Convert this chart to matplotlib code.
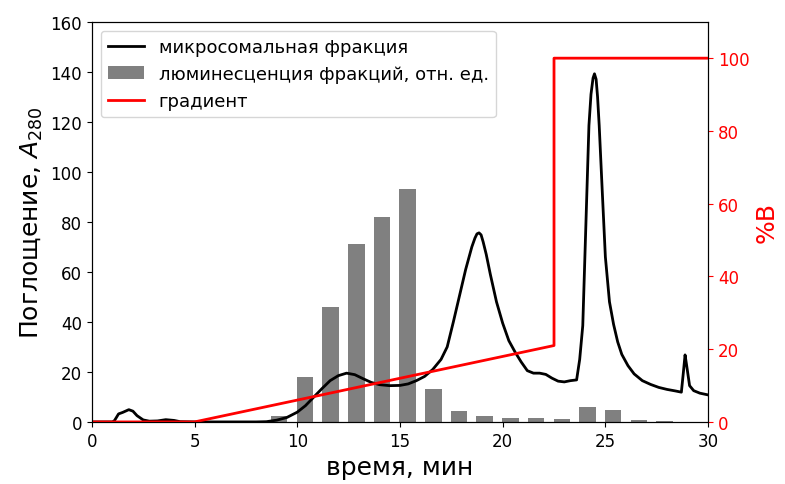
import matplotlib
matplotlib.use("Agg")
import matplotlib.pyplot as plt

# Black chromatogram (microsomal fraction)
time_min = [0, 1.0, 1.1, 1.3, 1.5, 1.8, 2.0, 2.2, 2.5, 2.8, 3.2, 3.6, 4.0, 4.3, 5, 6, 7, 8,
            8.5, 9.0, 9.5, 10.0, 10.4, 10.8, 11.2, 11.6, 12.0, 12.4, 12.8, 13.2, 13.6,
            14.0, 14.5, 15.0, 15.4, 15.8, 16.2, 16.6, 17.0, 17.3, 17.6, 17.9, 18.2, 18.5,
            18.65, 18.75, 18.85, 18.95, 19.05, 19.2, 19.4, 19.7, 20.0, 20.3, 20.6, 20.9,
            21.2, 21.5, 21.8, 22.1, 22.4, 22.7, 23.0, 23.3, 23.6, 23.75, 23.9, 24.05,
            24.2, 24.3, 24.4, 24.47, 24.55, 24.62, 24.7, 24.85, 25.0, 25.2, 25.4, 25.6,
            25.8, 26.1, 26.4, 26.8, 27.2, 27.6, 28.0, 28.4, 28.7, 28.8, 28.88, 28.95,
            29.1, 29.3, 29.6, 30.0]
absorbance = [0, 0, 0.5, 3.2, 3.8, 4.9, 4.3, 2.5, 0.8, 0.3, 0.4, 0.9, 0.6, 0.1, 0, 0, 0, 0,
              0.1, 0.7, 1.8, 3.9, 6.5, 9.9, 13.3, 16.5, 18.5, 19.5, 18.9, 17.3, 15.8,
              14.9, 14.5, 14.6, 15.2, 16.5, 18.2, 21.0, 25.0, 30, 40, 50.5, 61, 70,
              73.5, 75.2, 75.6, 74.8, 72, 67, 59, 48, 39.5, 32.5, 28, 24,
              20.5, 19.5, 19.5, 19.0, 17.5, 16.3, 16.0, 16.5, 16.8, 25, 38.5, 78.5,
              118.5, 131, 137.5, 139.2, 137, 130, 118.5, 92, 66, 48, 39, 32,
              27, 22.5, 19.2, 16.5, 15, 13.8, 13, 12.4, 11.9, 20, 26.8, 23,
              14.5, 12.5, 11.5, 10.8]

# Fraction luminescence bars
fraction_time = [9.125, 10.375, 11.625, 12.875, 14.125, 15.375, 16.625, 17.875, 19.125,
                 20.375, 21.625, 22.875, 24.125, 25.375, 26.625, 27.875]
luminescence = [2.3, 17.9, 46.1, 71.2, 81.9, 93.2, 13.2, 4.4, 2.3, 1.6, 1.6, 1.2, 6.1, 4.8, 0.9, 0.5]

# Gradient %B
grad_time = [0, 5, 22.5, 22.5, 30]
grad_b = [0, 0, 21, 100, 100]

fig = plt.figure(figsize=(7.85, 4.85), dpi=100)
ax = fig.add_axes([0.117, 0.128, 0.785, 0.825])
ax2 = ax.twinx()

bars = ax.bar(fraction_time, luminescence, width=0.8, color="gray",
              label="люминесценция фракций, отн. ед.")
line, = ax.plot(time_min, absorbance, color="black", lw=2, label="микросомальная фракция")
gline, = ax2.plot(grad_time, grad_b, color="red", lw=2, label="градиент")

ax.set_xlim(0, 30)
ax.set_ylim(0, 160)
ax2.set_ylim(0, 110)
ax.set_xticks([0, 5, 10, 15, 20, 25, 30])
ax.set_yticks(range(0, 161, 20))
ax2.set_yticks(range(0, 101, 20))
ax.tick_params(labelsize=12)
ax2.tick_params(axis="y", colors="red", labelsize=12)
ax2.spines["right"].set_color("black")

ax.set_xlabel("время, мин", fontsize=18)
ax.set_ylabel("Поглощение, $A_{280}$", fontsize=18)
ax2.set_ylabel("%B", fontsize=18, color="red")

ax2.legend([line, bars, gline],
           ["микросомальная фракция", "люминесценция фракций, отн. ед.", "градиент"],
           loc="upper left", fontsize=13)

fig.savefig("out.png", dpi=100)
